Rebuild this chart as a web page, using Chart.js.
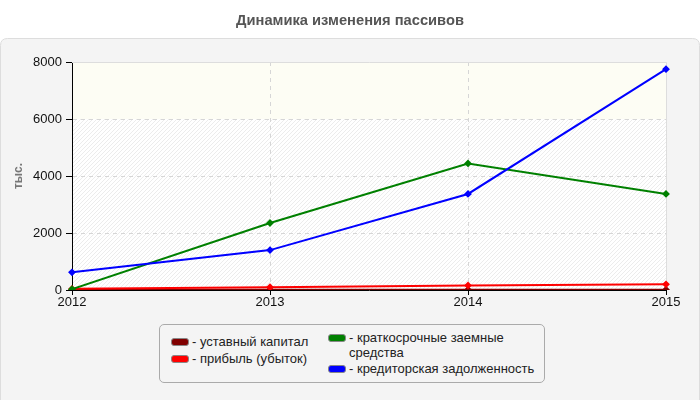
<!DOCTYPE html>
<html>
<head>
<meta charset="utf-8">
<script src="https://cdn.jsdelivr.net/npm/chart.js@4/dist/chart.umd.min.js"></script>
<style>
  html, body { margin: 0; padding: 0; background: #fff; }
  #wrap { position: relative; width: 700px; height: 400px; font-family: "Liberation Sans", Arial, sans-serif; }
  #c { position: absolute; left: 0; top: 0; }
  #title { position: absolute; left: 0; top: 11px; width: 700px; text-align: center; font-weight: bold; font-size: 14.7px; line-height: 18px; color: #555; }
  #legend { position: absolute; left: 159px; top: 324px; width: 386px; height: 59px; border: 1px solid #aaa; border-radius: 5px; background: #f4f4f4; box-sizing: border-box; font-size: 13px; color: #222; }
  .item { position: absolute; display: flex; align-items: flex-start; line-height: 15px; }
  .sw { width: 16px; height: 6px; border: 1px solid #888; border-radius: 3px; margin-top: 4px; margin-right: 3px; flex: none; }
</style>
</head>
<body>
<div id="wrap">
  <canvas id="c" width="700" height="400"></canvas>
  <div id="title"></div>
  <div id="legend"></div>
</div>
<script>
const categories = ["2012", "2013", "2014", "2015"];
const seriesNames = ["уставный капитал", "прибыль (убыток)", "краткосрочные заемные средства", "кредиторская задолженность"];
const ustavnyi = [10, 10, 10, 10];
const pribyl = [40, 100, 160, 200];
const kratkosrochnye = [30, 2350, 4440, 3370];
const kreditorskaya = [620, 1400, 3370, 7750];
const seriesColors = ["#800000", "#ff0000", "#008000", "#0000ff"];
const yTicks = [0, 2000, 4000, 6000, 8000];
const chartTitle = "Динамика изменения пассивов";
const yTitle = "тыс.";

const allData = [ustavnyi, pribyl, kratkosrochnye, kreditorskaya];

document.getElementById('title').textContent = chartTitle;

const legendPos = [[11, 9], [11, 26], [168, 5], [168, 36]];
const lg = document.getElementById('legend');
seriesNames.forEach((n, i) => {
  const d = document.createElement('div');
  d.className = 'item';
  d.style.left = legendPos[i][0] + 'px';
  d.style.top = legendPos[i][1] + 'px';
  if (i === 2) d.style.width = '190px';
  d.innerHTML = '<span class="sw" style="background:' + seriesColors[i] + '"></span><span>- ' + n + '</span>';
  lg.appendChild(d);
});

function makeHatch() {
  const p = document.createElement('canvas');
  p.width = 4; p.height = 4;
  const g = p.getContext('2d');
  g.fillStyle = '#ffffff';
  g.fillRect(0, 0, 4, 4);
  g.strokeStyle = '#ececec';
  g.lineWidth = 1;
  g.beginPath();
  g.moveTo(0, 4); g.lineTo(4, 0);
  g.moveTo(-1, 1); g.lineTo(1, -1);
  g.moveTo(3, 5); g.lineTo(5, 3);
  g.stroke();
  return p;
}

const bgPlugin = {
  id: 'bg',
  beforeDraw(chart) {
    const ctx = chart.ctx;
    ctx.save();
    const x = 0.5, y = 38.5, w = 699, h = 361, r = 7;
    ctx.beginPath();
    ctx.moveTo(x + r, y);
    ctx.lineTo(x + w - r, y);
    ctx.quadraticCurveTo(x + w, y, x + w, y + r);
    ctx.lineTo(x + w, y + h + 10);
    ctx.lineTo(x, y + h + 10);
    ctx.lineTo(x, y + r);
    ctx.quadraticCurveTo(x, y, x + r, y);
    ctx.closePath();
    ctx.fillStyle = '#f4f4f4';
    ctx.fill();
    ctx.strokeStyle = '#dddddd';
    ctx.lineWidth = 1;
    ctx.stroke();
    const a = chart.chartArea;
    const ys = chart.scales.y;
    ctx.fillStyle = ctx.createPattern(makeHatch(), 'repeat');
    ctx.fillRect(a.left, a.top, a.right - a.left, a.bottom - a.top);
    const y6 = ys.getPixelForValue(6000);
    ctx.fillStyle = '#fdfdf4';
    ctx.fillRect(a.left, a.top, a.right - a.left, y6 - a.top);
    ctx.restore();
  },
  beforeDatasetsDraw(chart) {
    const ctx = chart.ctx;
    const a = chart.chartArea;
    ctx.save();
    ctx.strokeStyle = '#dddddd';
    ctx.lineWidth = 1;
    ctx.beginPath();
    ctx.moveTo(a.left, a.top + 0.5);
    ctx.lineTo(a.right + 0.5, a.top + 0.5);
    ctx.lineTo(a.right + 0.5, a.bottom);
    ctx.stroke();
    ctx.translate(19, (a.top + a.bottom) / 2);
    ctx.rotate(-Math.PI / 2);
    ctx.fillStyle = '#777777';
    ctx.font = 'bold 12px "Liberation Sans", Arial, sans-serif';
    ctx.textAlign = 'center';
    ctx.textBaseline = 'middle';
    ctx.fillText(yTitle, 0, 0);
    ctx.restore();
  }
};

new Chart(document.getElementById('c'), {
  type: 'line',
  data: {
    labels: categories,
    datasets: seriesNames.map((n, i) => ({
      label: n,
      data: allData[i],
      borderColor: seriesColors[i],
      backgroundColor: seriesColors[i],
      borderWidth: 2,
      pointStyle: 'rectRot',
      pointRadius: 2.5,
      pointHoverRadius: 2.5,
      tension: 0,
      fill: false
    })).reverse()
  },
  options: {
    responsive: false,
    animation: false,
    layout: { padding: { left: 0, top: 62, right: 34, bottom: 0 } },
    plugins: {
      legend: { display: false },
      tooltip: { enabled: false },
      title: { display: false }
    },
    scales: {
      x: {
        type: 'category',
        offset: false,
        grid: {
          color: (c) => (c.index === 0 || c.index === categories.length - 1) ? 'rgba(0,0,0,0)' : '#d6d6d6',
          drawOnChartArea: true,
          tickLength: 5,
          tickColor: '#000',
          tickBorderDash: [],
          lineWidth: 1
        },
        border: { display: true, color: '#000', width: 1, dash: [4, 4] },
        ticks: {
          color: '#111',
          font: { family: '"Liberation Sans", Arial, sans-serif', size: 13 },
          padding: 0,
          maxRotation: 0
        },
        afterFit(s) { s.height = 110; }
      },
      y: {
        min: 0,
        max: 8000,
        afterBuildTicks(s) { s.ticks = yTicks.map(v => ({ value: v })); },
        grid: {
          color: (c) => (c.tick && (c.tick.value === 0 || c.tick.value === 8000)) ? 'rgba(0,0,0,0)' : '#d6d6d6',
          tickLength: 6,
          tickColor: '#000',
          tickBorderDash: [],
          lineWidth: 1
        },
        border: { display: true, color: '#000', width: 1, dash: [4, 4] },
        ticks: {
          color: '#111',
          font: { family: '"Liberation Sans", Arial, sans-serif', size: 13 },
          padding: 4,
          callback: (v) => String(v)
        },
        afterFit(s) { s.width = 72; }
      }
    }
  },
  plugins: [bgPlugin]
});
</script>
</body>
</html>
